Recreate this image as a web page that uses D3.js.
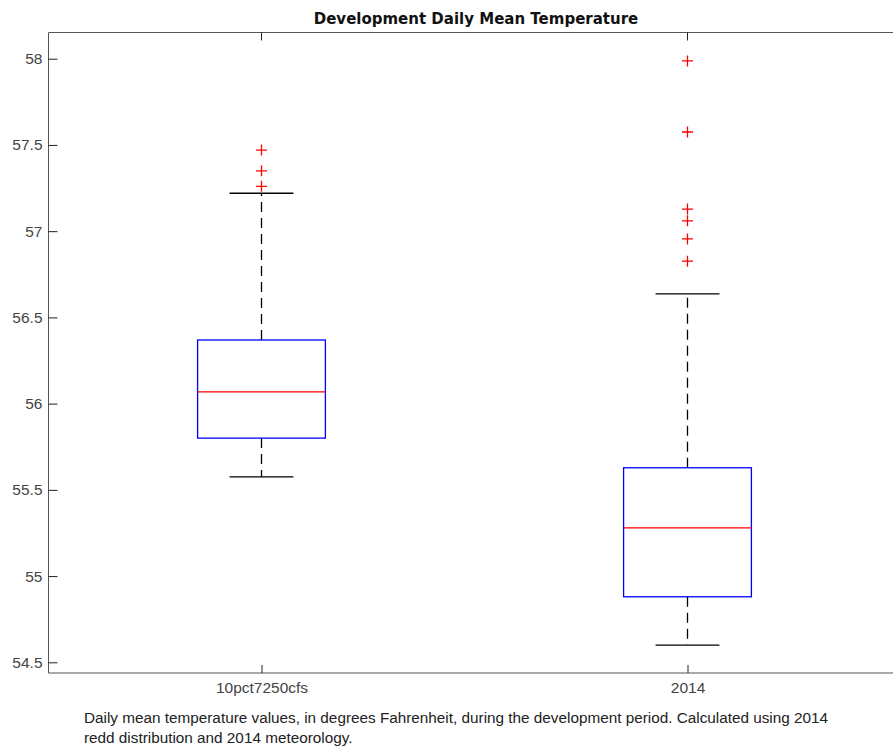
<!DOCTYPE html>
<html>
<head>
<meta charset="utf-8">
<script src="https://cdn.jsdelivr.net/npm/d3@7"></script>
<style>
  body { margin: 0; background: #fff; }
  svg text { font-family: "Liberation Sans", Arial, sans-serif; }
</style>
</head>
<body>
<div id="chart"></div>
<script>
// Dane wykresu pudełkowego
var categories = ["10pct7250cfs", "2014"];
var q1 = [55.80, 54.88];
var medians = [56.068, 55.28];
var q3 = [56.369, 55.628];
var whiskerLow = [55.575, 54.60];
var whiskerHigh = [57.22, 56.636];
var outliers = [
	[57.47, 57.35, 57.26],
	[57.987, 57.575, 57.128, 57.06, 56.955, 56.826]
];
var yTicks = [54.5, 55, 55.5, 56, 56.5, 57, 57.5, 58];

var width = 893, height = 753;
var plotLeft = 48.5, plotTop = 32.5, plotBottom = 673;

var svg = d3.select("#chart").append("svg")
	.attr("width", width)
	.attr("height", height);

// skale - pozycje 1 i 2, zakres 0.5..2.5 jak w MATLAB
var xScale = d3.scaleLinear().domain([0.5, 2.5]).range([plotLeft, plotLeft + 852]);
var yScale = d3.scaleLinear().domain([54.438, 58.152]).range([plotBottom, plotTop]);

var axisColor = "#555";

// ramka osi
svg.append("line").attr("x1", plotLeft).attr("x2", width).attr("y1", plotTop).attr("y2", plotTop)
	.style("stroke", axisColor);
svg.append("line").attr("x1", plotLeft).attr("x2", width).attr("y1", plotBottom).attr("y2", plotBottom)
	.style("stroke", axisColor);
svg.append("line").attr("x1", plotLeft).attr("x2", plotLeft).attr("y1", plotTop).attr("y2", plotBottom)
	.style("stroke", axisColor);

// oś Y
var yAxis = d3.axisLeft(yScale).tickValues(yTicks).tickSize(-9).tickPadding(6)
	.tickFormat(function (d) { return d3.format("")(d); });
var gy = svg.append("g").attr("transform", "translate(" + plotLeft + ",0)").call(yAxis);
gy.select(".domain").remove();
gy.selectAll(".tick line").style("stroke", "#222");
gy.selectAll(".tick text").style("font-size", "15.5px").style("fill", "#444");

// oś X
var xAxis = d3.axisBottom(xScale).tickValues([1, 2]).tickSize(-8).tickPadding(9)
	.tickFormat(function (d) { return categories[d - 1]; });
var gx = svg.append("g").attr("transform", "translate(0," + plotBottom + ")").call(xAxis);
gx.select(".domain").remove();
gx.selectAll(".tick line").style("stroke", "#222");
gx.selectAll(".tick text").style("font-size", "15.5px").style("fill", "#444");

// górne znaczniki
svg.selectAll(".top-tick")
	.data([1, 2])
	.enter()
	.append("line")
	.attr("x1", function (d) { return xScale(d); })
	.attr("x2", function (d) { return xScale(d); })
	.attr("y1", plotTop)
	.attr("y2", plotTop + 8)
	.style("stroke", "#222");

var boxData = categories.map(function (c, i) {
	return { pos: i + 1, q1: q1[i], med: medians[i], q3: q3[i], lo: whiskerLow[i], hi: whiskerHigh[i], out: outliers[i] };
});

var boxHalf = 0.15, capHalf = 0.075;

var g = svg.selectAll(".box").data(boxData).enter().append("g").attr("class", "box");

// wąsy (przerywane)
g.append("line")
	.attr("x1", function (d) { return xScale(d.pos); })
	.attr("x2", function (d) { return xScale(d.pos); })
	.attr("y1", function (d) { return yScale(d.q3); })
	.attr("y2", function (d) { return yScale(d.hi); })
	.style("stroke", "#000").style("stroke-width", 1.3).style("stroke-dasharray", "10,6");
g.append("line")
	.attr("x1", function (d) { return xScale(d.pos); })
	.attr("x2", function (d) { return xScale(d.pos); })
	.attr("y1", function (d) { return yScale(d.q1); })
	.attr("y2", function (d) { return yScale(d.lo); })
	.style("stroke", "#000").style("stroke-width", 1.3).style("stroke-dasharray", "10,6");

// końcówki wąsów
["hi", "lo"].forEach(function (k) {
	g.append("line")
		.attr("x1", function (d) { return xScale(d.pos - capHalf); })
		.attr("x2", function (d) { return xScale(d.pos + capHalf); })
		.attr("y1", function (d) { return yScale(d[k]); })
		.attr("y2", function (d) { return yScale(d[k]); })
		.style("stroke", "#000").style("stroke-width", 1.3);
});

// pudełka
g.append("rect")
	.attr("x", function (d) { return xScale(d.pos - boxHalf); })
	.attr("width", function (d) { return xScale(d.pos + boxHalf) - xScale(d.pos - boxHalf); })
	.attr("y", function (d) { return yScale(d.q3); })
	.attr("height", function (d) { return yScale(d.q1) - yScale(d.q3); })
	.style("fill", "none").style("stroke", "#0000ff").style("stroke-width", 1.3);

// mediana
g.append("line")
	.attr("x1", function (d) { return xScale(d.pos - boxHalf); })
	.attr("x2", function (d) { return xScale(d.pos + boxHalf); })
	.attr("y1", function (d) { return yScale(d.med); })
	.attr("y2", function (d) { return yScale(d.med); })
	.style("stroke", "#ff0000").style("stroke-width", 1.3);

// wartości odstające (plusy)
g.each(function (d) {
	var cx = xScale(d.pos);
	d3.select(this).selectAll(".outlier")
		.data(d.out)
		.enter()
		.append("path")
		.attr("class", "outlier")
		.attr("d", function (v) {
			var cy = yScale(v);
			return "M" + (cx - 5.5) + "," + cy + "H" + (cx + 5.5) + "M" + cx + "," + (cy - 5.5) + "V" + (cy + 5.5);
		})
		.style("stroke", "#ff0000").style("stroke-width", 1.3);
});

// tytuł
svg.append("text")
	.attr("x", 476)
	.attr("y", 24)
	.attr("text-anchor", "middle")
	.style("font-family", "'DejaVu Sans', sans-serif")
	.style("font-size", "15px")
	.style("font-weight", "bold")
	.style("fill", "#111")
	.text("Development Daily Mean Temperature");

// podpis
var caption = ["Daily mean temperature values, in degrees Fahrenheit, during the development period. Calculated using 2014",
	"redd distribution and 2014 meteorology."];
svg.selectAll(".caption")
	.data(caption)
	.enter()
	.append("text")
	.attr("class", "caption")
	.attr("x", 84)
	.attr("y", function (d, i) { return 723 + i * 20; })
	.style("font-size", "15.3px")
	.style("fill", "#222")
	.text(function (d) { return d; });
</script>
</body>
</html>
